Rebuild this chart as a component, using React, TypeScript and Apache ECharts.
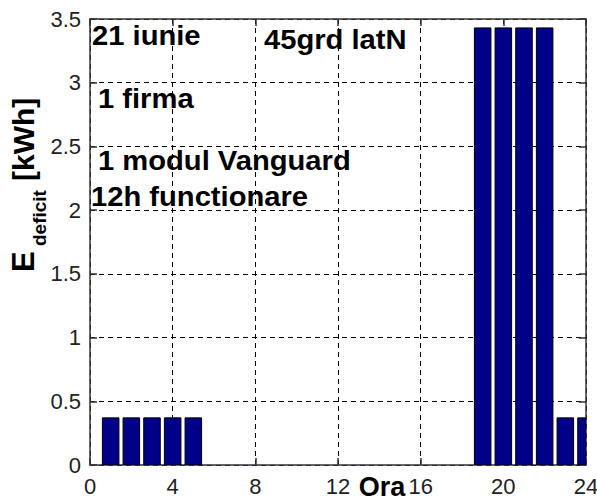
import React, { useEffect, useRef } from "react";
import * as echarts from "echarts";

// Hour of day (x) and energy deficit in kWh (y)
const hours = [1, 2, 3, 4, 5, 6, 7, 8, 9, 10, 11, 12, 13, 14, 15, 16, 17, 18, 19, 20, 21, 22, 23, 24];
const deficit = [
  0.37, 0.37, 0.37, 0.37, 0.37,
  0, 0, 0, 0, 0, 0, 0, 0, 0, 0, 0, 0, 0,
  3.43, 3.43, 3.43, 3.43,
  0.37, 0.37,
];
const xTickLabels = ["0", "4", "8", "12", "16", "20", "24"];
const yTickLabels = ["0", "0.5", "1", "1.5", "2", "2.5", "3", "3.5"];
const notes = ["21 iunie", "45grd latN", "1 firma", "1 modul Vanguard", "12h functionare"];
const xName = "Ora";
const yNameMain = "E";
const yNameSub = "deficit";
const yNameUnit = "[kWh]";

const FONT = "'Liberation Sans', Arial, Helvetica, sans-serif";
const BAR_HALF = 0.4; // MATLAB default bar width 0.8

export default function App() {
  const ref = useRef<HTMLDivElement>(null);
  useEffect(() => {
    document.body.style.margin = "0";
    const chart = echarts.init(ref.current!, null, { renderer: "svg" });
    const noteStyle = { fontFamily: FONT, fontSize: 27, fontWeight: "bold", fill: "#000" };
    const notePos = [
      [92, 36],
      [264, 40],
      [98, 99],
      [98, 161],
      [91, 197],
    ];
    const axisLineStyle = { color: "#333", width: 1.5 };
    const gridLine = { show: true, lineStyle: { color: "#000", type: [5, 4], width: 1 } };
    chart.setOption({
      animation: false,
      backgroundColor: "#fff",
      grid: { left: 90, top: 19, right: 11, bottom: 39, containLabel: false, outerBoundsMode: "none" },
      xAxis: [
        {
          type: "value",
          min: 0,
          max: 24,
          interval: 4,
          axisLine: { show: true, onZero: false, lineStyle: axisLineStyle },
          axisTick: { show: true, inside: true, length: 7, lineStyle: axisLineStyle },
          splitLine: gridLine,
          axisLabel: {
            margin: 10,
            fontFamily: FONT,
            fontSize: 22,
            color: "#222",
            formatter: (v: number) => xTickLabels[Math.round(v / 4)] ?? String(v),
          },
        },
        {
          type: "value",
          position: "top",
          min: 0,
          max: 24,
          interval: 4,
          axisLine: { show: true, onZero: false, lineStyle: axisLineStyle },
          axisTick: { show: true, inside: true, length: 7, lineStyle: axisLineStyle },
          splitLine: { show: false },
          axisLabel: { show: false },
        },
      ],
      yAxis: [
        {
          type: "value",
          min: 0,
          max: 3.5,
          interval: 0.5,
          axisLine: { show: true, onZero: false, lineStyle: axisLineStyle },
          axisTick: { show: true, inside: true, length: 7, lineStyle: axisLineStyle },
          splitLine: gridLine,
          axisLabel: {
            margin: 9,
            fontFamily: FONT,
            fontSize: 22,
            color: "#222",
            formatter: (v: number) => yTickLabels[Math.round(v / 0.5)] ?? String(v),
          },
        },
        {
          type: "value",
          position: "right",
          min: 0,
          max: 3.5,
          interval: 0.5,
          axisLine: { show: true, onZero: false, lineStyle: axisLineStyle },
          axisTick: { show: true, inside: true, length: 7, lineStyle: axisLineStyle },
          splitLine: { show: false },
          axisLabel: { show: false },
        },
      ],
      series: [
        {
          type: "custom",
          xAxisIndex: 0,
          yAxisIndex: 0,
          clip: true,
          encode: { x: 0, y: 1 },
          data: hours.map((h, i) => [h, deficit[i]]),
          renderItem: (params: any, api: any) => {
            const x = api.value(0);
            const y = api.value(1);
            if (!y) return null;
            const p0 = api.coord([x - BAR_HALF, y]);
            const p1 = api.coord([x + BAR_HALF, 0]);
            const cs = params.coordSys;
            const shape = echarts.graphic.clipRectByRect(
              { x: p0[0], y: p0[1], width: p1[0] - p0[0], height: p1[1] - p0[1] },
              { x: cs.x, y: cs.y, width: cs.width, height: cs.height }
            );
            if (!shape) return null;
            return {
              type: "rect",
              shape,
              style: { fill: "#000088", stroke: "#000", lineWidth: 1 },
            };
          },
        },
      ],
      graphic: [
        ...notes.map((t, i) => ({
          type: "text",
          x: notePos[i][0],
          y: notePos[i][1],
          scaleX: 1.08,
          z: 100,
          style: { ...noteStyle, text: t, textAlign: "left", verticalAlign: "middle" },
        })),
        {
          type: "text",
          x: 382,
          y: 487,
          z: 100,
          style: {
            text: xName,
            fontFamily: FONT,
            fontSize: 27,
            fontWeight: "bold",
            fill: "#000",
            textAlign: "center",
            verticalAlign: "middle",
          },
        },
        {
          type: "group",
          x: 23,
          y: 272,
          rotation: Math.PI / 2,
          z: 100,
          children: [
            {
              type: "text",
              x: 0,
              y: 0,
              style: { text: yNameMain, fontFamily: FONT, fontSize: 31, fontWeight: "bold", fill: "#000", textAlign: "left", verticalAlign: "middle" },
            },
            {
              type: "text",
              x: 26,
              y: 16,
              style: { text: yNameSub, fontFamily: FONT, fontSize: 19, fontWeight: "bold", fill: "#000", textAlign: "left", verticalAlign: "middle" },
            },
            {
              type: "text",
              x: 91,
              y: 0,
              style: { text: yNameUnit, fontFamily: FONT, fontSize: 30, fontWeight: "bold", fill: "#000", textAlign: "left", verticalAlign: "middle" },
            },
          ],
        },
      ],
    });
    return () => chart.dispose();
  }, []);
  return <div ref={ref} style={{ width: 597, height: 504 }} />;
}
